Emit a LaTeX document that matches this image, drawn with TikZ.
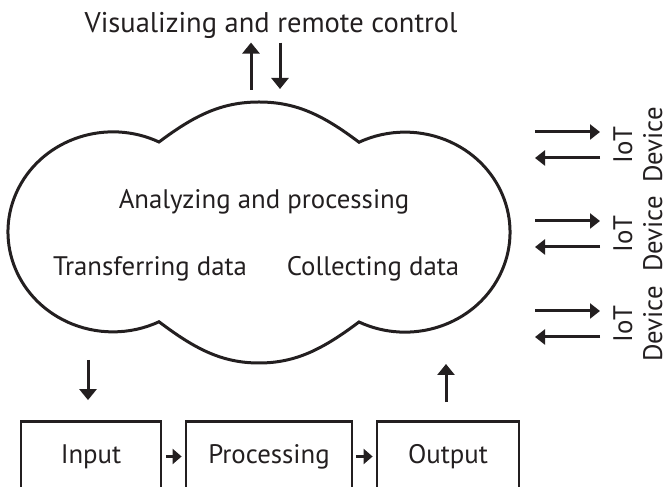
\documentclass[tikz,border=0pt]{standalone}
\usepackage{fontspec}
\setmainfont{PT Sans}
\usetikzlibrary{arrows.meta,positioning}

\definecolor{ink}{RGB}{35,31,32}

\tikzset{
  arr/.style={line width=3pt,-{Triangle[width=17pt,length=11pt]}},
  iarr/.style={line width=3pt,-{Triangle[width=15pt,length=10pt]}},
  sarr/.style={line width=3pt,-{Triangle[width=15pt,length=9pt]}},
  blk/.style={draw,line width=2.8pt,minimum width=#1,minimum height=70pt,inner sep=0pt,
    text height=18.8pt,text depth=5.4pt},
  lbl/.style={font=\fontsize{26.8}{30}\selectfont},
}

\begin{document}
\begin{tikzpicture}[x=1pt,y=1pt,every node/.style={lbl},color=ink]
    \useasboundingbox (0,0) rectangle (665,487);

    % cloud: two side lobes, bumps on top and bottom
    \draw[line width=3pt] (159,345)
        arc[start angle=64,end angle=296,x radius=105pt,y radius=100pt]
        .. controls (195,138) and (222,124) .. (259,124)
        .. controls (296,124) and (323,138) .. (359,165)
        arc[start angle=-116,end angle=116,x radius=105pt,y radius=100pt]
        .. controls (323,372) and (296,385) .. (259,385)
        .. controls (222,385) and (195,372) .. (159,345) -- cycle;

    \node[anchor=base,font=\fontsize{28.5}{32}\selectfont] (title) at (271,454) {Visualizing and remote control};
    \node[anchor=base] (ana) at (264,278) {Analyzing and processing};
    \node[anchor=base] (tra) at (150,211) {Transferring data};
    \node[anchor=base] (col) at (373,211) {Collecting data};

    \node[blk=140pt] (in) at (91,30.5) {Input};
    \node[blk=166pt] (proc) at (269,30.5) {Processing};
    \node[blk=142pt] (out) at (448,30.5) {Output};
    \draw[sarr,shorten <=4pt,shorten >=3pt] (in) -- (proc);
    \draw[sarr,shorten <=3pt,shorten >=3pt] (proc) -- (out);

    \coordinate (dn) at (88,127);
    \coordinate (up) at (446,123);
    \draw[arr] (dn) -- ([xshift=-3pt,yshift=20pt]in.north);
    \draw[arr] ([xshift=-2pt,yshift=18pt]out.north) -- (up);

    \coordinate (vis) at (251,397);
    \coordinate (rc) at (280,398);
    \draw[arr] (vis) -- ([xshift=-20pt]title.south);
    \draw[arr] ([xshift=9pt]title.south) -- (rc);

    \foreach \i/\y in {1/342,2/253,3/163}
    {
        \node[rotate=90,align=center] (dev\i) at (638,\y) {IoT\\Device};
        \draw[iarr] ([shift={(-103pt,13pt)}]dev\i.center) -- ([shift={(-38pt,13pt)}]dev\i.center);
        \draw[iarr] ([shift={(-38pt,-13pt)}]dev\i.center) -- ([shift={(-103pt,-13pt)}]dev\i.center);
    }

\end{tikzpicture}
\end{document}
